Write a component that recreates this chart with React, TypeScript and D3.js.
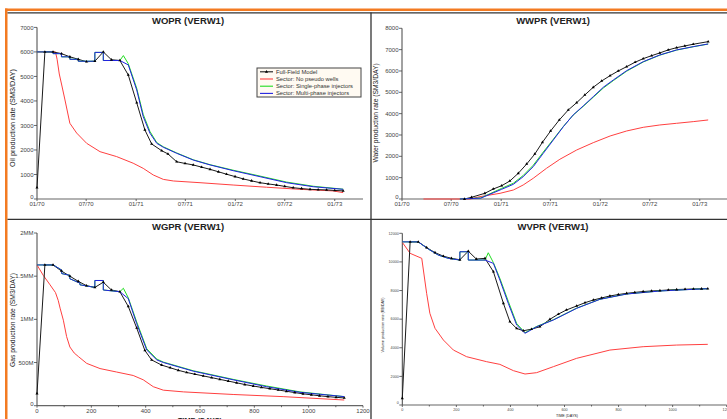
import React from "react";
import * as d3 from "d3";

type Pt = [number, number];

// ---------- WOPR (SM3/DAY) vs days ----------
const woprFull: Pt[] = [[0,460],[29,6000],[59,6000],[90,5930],[121,5800],[152,5700],[182,5600],[213,5620],[244,6000],[274,5680],[305,5650],[336,5060],[367,3930],[397,2820],[422,2245],[459,1970],[482,1840],[514,1520],[545,1450],[575,1390],[606,1300],[637,1210],[668,1110],[698,1010],[729,915],[759,820],[790,740],[821,665],[851,615],[882,570],[912,515],[943,460],[974,425],[1005,395],[1035,380],[1066,370],[1096,350],[1127,330]];
const woprNoPseudo: Pt[] = [[0,6000],[68,6000],[74,5700],[82,5100],[91,4650],[103,4040],[121,3090],[146,2690],[183,2270],[232,1930],[293,1730],[354,1460],[391,1250],[428,980],[465,800],[502,735],[600,665],[722,570],[845,480],[968,395],[1090,330],[1127,260]];
const woprSingle: Pt[] = [[0,6000],[59,6000],[59,5930],[90,5930],[90,5800],[121,5800],[121,5700],[152,5700],[152,5620],[213,5620],[213,5980],[244,5980],[244,5650],[305,5650],[318,5850],[336,5520],[367,4520],[391,3450],[416,2750],[441,2300],[465,2130],[514,1880],[575,1600],[637,1400],[722,1175],[821,935],[919,690],[1017,520],[1127,400]];
const woprMulti: Pt[] = [[0,6000],[59,6000],[59,5930],[90,5930],[90,5800],[121,5800],[121,5700],[152,5700],[152,5620],[213,5620],[213,5980],[244,5980],[244,5650],[305,5650],[336,5470],[367,4450],[391,3360],[416,2680],[441,2270],[465,2110],[514,1865],[575,1590],[637,1390],[722,1155],[821,910],[919,665],[1017,500],[1127,395]];

// ---------- WWPR (SM3/DAY) ----------
const wwprFull: Pt[] = [[230,0],[256,80],[305,267],[336,469],[367,623],[397,844],[428,1205],[459,1641],[489,2110],[517,2658],[547,3188],[579,3704],[612,4172],[643,4515],[673,4876],[704,5237],[735,5532],[766,5780],[796,6001],[827,6203],[858,6409],[888,6578],[919,6718],[949,6845],[980,6986],[1011,7093],[1041,7173],[1072,7253],[1127,7375]];
const wwprNoPseudo: Pt[] = [[79,0],[250,0],[287,110],[361,267],[410,422],[446,656],[483,970],[532,1439],[581,1861],[643,2297],[704,2640],[766,2953],[827,3188],[888,3360],[949,3469],[1011,3548],[1072,3626],[1127,3704]];
const wwprSingle: Pt[] = [[213,0],[290,50],[367,500],[410,740],[446,1100],[483,1580],[520,2200],[557,2800],[594,3400],[630,3930],[667,4340],[704,4770],[741,5200],[778,5550],[827,5990],[888,6420],[949,6740],[1011,6980],[1072,7135],[1127,7260]];
const wwprMulti: Pt[] = [[213,0],[290,40],[367,455],[410,690],[446,1045],[483,1515],[520,2142],[557,2766],[594,3390],[630,3938],[667,4360],[704,4796],[741,5237],[778,5579],[827,6015],[888,6437],[949,6751],[1011,6986],[1072,7140],[1127,7267]];

// ---------- WGPR (MM SM3/DAY) ----------
const wgprFull: Pt[] = [[0,0.14],[29,1.63],[59,1.63],[90,1.56],[121,1.5],[152,1.44],[182,1.39],[213,1.37],[244,1.43],[274,1.34],[305,1.32],[336,1.15],[367,0.9],[397,0.64],[422,0.53],[459,0.47],[490,0.44],[520,0.41],[551,0.385],[581,0.365],[612,0.345],[643,0.325],[673,0.305],[704,0.285],[735,0.265],[765,0.245],[796,0.228],[826,0.212],[857,0.197],[888,0.182],[918,0.167],[949,0.152],[979,0.138],[1010,0.126],[1040,0.115],[1071,0.105],[1101,0.097],[1131,0.09]];
const wgprNoPseudo: Pt[] = [[0,1.63],[23,1.51],[48,1.4],[68,1.31],[78,1.22],[85,1.13],[97,0.99],[109,0.8],[121,0.68],[137,0.61],[152,0.57],[183,0.49],[232,0.43],[293,0.39],[354,0.35],[391,0.3],[428,0.22],[465,0.18],[539,0.16],[722,0.13],[906,0.105],[1131,0.066]];
const wgprSingle: Pt[] = [[0,1.63],[60,1.63],[91,1.57],[91,1.53],[121,1.51],[121,1.47],[158,1.42],[158,1.4],[195,1.38],[213,1.37],[213,1.45],[244,1.45],[244,1.34],[305,1.32],[318,1.36],[336,1.25],[367,0.97],[404,0.66],[441,0.54],[465,0.505],[575,0.405],[722,0.305],[845,0.228],[968,0.16],[1131,0.105]];
const wgprMulti: Pt[] = [[0,1.63],[60,1.63],[91,1.57],[91,1.53],[121,1.51],[121,1.47],[158,1.42],[158,1.4],[195,1.38],[213,1.37],[213,1.45],[244,1.45],[244,1.34],[305,1.32],[336,1.24],[367,0.95],[404,0.645],[441,0.53],[465,0.5],[575,0.4],[722,0.3],[845,0.22],[968,0.155],[1131,0.105]];

// ---------- WVPR (RB/DAY) ----------
const wvprFull: Pt[] = [[0,470],[29,11400],[59,11400],[90,11000],[121,10650],[152,10400],[182,10250],[213,10150],[244,10750],[274,10200],[306,10250],[337,9315],[374,7107],[398,5820],[423,5350],[448,5190],[478,5300],[509,5470],[546,5990],[577,6350],[607,6640],[645,6920],[676,7150],[707,7340],[737,7480],[768,7620],[799,7720],[830,7805],[860,7870],[891,7930],[922,7970],[953,8000],[984,8040],[1015,8070],[1046,8090],[1077,8110],[1107,8120],[1130,8130]];
const wvprNoPseudo: Pt[] = [[0,11370],[29,10600],[72,10250],[78,9434],[90,7806],[102,6408],[121,5360],[152,4540],[189,3840],[238,3375],[312,3026],[361,2840],[411,2400],[454,2166],[497,2260],[559,2680],[645,3262],[768,3840],[891,4075],[1015,4190],[1130,4240]];
const wvprSingle: Pt[] = [[0,11400],[59,11400],[96,10900],[133,10480],[170,10250],[213,10130],[213,10710],[244,10710],[244,10130],[306,10130],[318,10640],[337,9950],[361,8850],[392,7250],[423,5700],[454,5050],[497,5490],[559,5960],[645,6770],[731,7390],[830,7760],[953,7970],[1077,8090],[1130,8130]];
const wvprMulti: Pt[] = [[0,11400],[59,11400],[96,10900],[133,10480],[170,10250],[213,10130],[213,10710],[244,10710],[244,10130],[306,10130],[337,9900],[361,8735],[392,7107],[423,5590],[454,5010],[497,5470],[559,5940],[645,6757],[731,7386],[830,7757],[953,7967],[1077,8085],[1130,8127]];

const legendLabels = ["Full-Field Model", "Sector: No pseudo wells", "Sector: Single-phase injectors", "Sector: Multi-phase injectors"];
const seriesColors = ["#1a1a1a", "#ff4040", "#22dd22", "#2222e0"];

const woprTicks = [0, 1000, 2000, 3000, 4000, 5000, 6000, 7000];
const wwprTicks = [0, 1000, 2000, 3000, 4000, 5000, 6000, 7000, 8000];
const wgprTicks = [0, 0.5, 1, 1.5, 2];
const wgprTickLabels = ["0", "500M", "1MM", "1.5MM", "2MM"];
const wvprTicks = [0, 2000, 4000, 6000, 8000, 10000, 12000];
const dayTicks = [0, 200, 400, 600, 800, 1000, 1200];
const dayMinorTicks = [100, 300, 500, 700, 900, 1100];

const FONT = "'Liberation Sans', Arial, Helvetica, sans-serif";
const BASE = Date.UTC(1970, 0, 1);
const DAY = 864e5;

type PanelProps = {
  left: number; right: number; bottom: number; top: number;
  yMax: number; yTicks: number[]; yTickLabels?: string[];
  time: boolean;
  series: Pt[][];
  title: string; titleX: number; titleY: number;
  yLabel: string; yLabelX: number; yLabelY: number; yLabelSize: number;
  tickSize: number; xTickLabelY: number;
  xLabel?: string; xLabelX?: number; xLabelY?: number; xLabelSize?: number; xLabelBold?: boolean;
};

function Panel(p: PanelProps) {
  const y = d3.scaleLinear().domain([0, p.yMax]).range([p.bottom, p.top]);
  let xs: (d: number) => number;
  let xTicks: { pos: number; label: string }[];
  let minor: number[] = [];
  if (p.time) {
    const xt = d3.scaleUtc().domain([new Date(BASE), new Date(BASE + 1200 * DAY)]).range([p.left, p.right]);
    xs = (d: number) => xt(new Date(BASE + d * DAY));
    const fmt = d3.utcFormat("%m/%y");
    xTicks = xt.ticks(d3.utcMonth.every(6) as any).map((t) => ({ pos: xt(t), label: fmt(t) }));
  } else {
    const xl = d3.scaleLinear().domain([0, 1200]).range([p.left, p.right]);
    xs = (d: number) => xl(d);
    xTicks = dayTicks.map((t) => ({ pos: xl(t), label: String(t) }));
    minor = dayMinorTicks.map((t) => xl(t));
  }
  const line = d3.line<Pt>().x((d) => xs(d[0])).y((d) => y(d[1]));
  const order = [1, 0, 2, 3];
  const tri = d3.symbol(d3.symbolTriangle, 4)() as string;
  return (
    <g>
      <text x={p.titleX} y={p.titleY} textAnchor="middle" fontFamily={FONT} fontWeight="bold" fontSize={9.5} fill="#222">{p.title}</text>
      <text transform={`translate(${p.yLabelX},${p.yLabelY}) rotate(-90)`} textAnchor="middle" fontFamily={FONT} fontSize={p.yLabelSize} fill="#222">{p.yLabel}</text>
      {/* axes */}
      <line x1={p.left} x2={p.left} y1={p.bottom} y2={p.top} stroke="#444" strokeWidth={1} />
      <line x1={p.left} x2={p.right} y1={p.bottom} y2={p.bottom} stroke="#666" strokeWidth={1.2} />
      {p.yTicks.map((t, i) => (
        <g key={"yt" + i}>
          <line x1={p.left - 3} x2={p.left} y1={y(t)} y2={y(t)} stroke="#444" strokeWidth={0.8} />
          <text x={p.left - 3.5} y={y(t) - (i === 0 ? 2 : 0)} dy="0.35em" textAnchor="end" fontFamily={FONT} fontSize={p.tickSize} fill="#444">
            {p.yTickLabels ? p.yTickLabels[i] : String(t)}
          </text>
        </g>
      ))}
      {xTicks.map((t, i) => (
        <g key={"xt" + i}>
          <line x1={t.pos} x2={t.pos} y1={p.bottom} y2={p.bottom + 2} stroke="#444" strokeWidth={0.8} />
          <text x={t.pos} y={p.xTickLabelY} textAnchor="middle" fontFamily={FONT} fontSize={p.tickSize} fill="#444">{t.label}</text>
        </g>
      ))}
      {minor.map((m, i) => (
        <line key={"mn" + i} x1={m} x2={m} y1={p.bottom} y2={p.bottom + 1.5} stroke="#444" strokeWidth={0.8} />
      ))}
      {p.xLabel && (
        <text x={p.xLabelX} y={p.xLabelY} textAnchor="middle" fontFamily={FONT} fontWeight={p.xLabelBold ? "bold" : "normal"} fontSize={p.xLabelSize} fill="#222">{p.xLabel}</text>
      )}
      {order.map((si) => (
        <path key={"s" + si} d={line(p.series[si]) || ""} fill="none" stroke={seriesColors[si]} strokeWidth={1} strokeLinejoin="round" />
      ))}
      {p.series[0].map((d, i) => (
        <path key={"m" + i} d={tri} transform={`translate(${xs(d[0])},${y(d[1])})`} fill="#000" />
      ))}
    </g>
  );
}

function Legend() {
  const x = 257, yy = 68, w = 104, h = 29;
  const tri = d3.symbol(d3.symbolTriangle, 4)() as string;
  return (
    <g>
      <rect x={x} y={yy} width={w} height={h} fill="#fffaf2" stroke="#444" strokeWidth={1} />
      {legendLabels.map((l, i) => {
        const cy = 71.8 + i * 7.2;
        return (
          <g key={l}>
            <line x1={260} x2={273} y1={cy} y2={cy} stroke={seriesColors[i]} strokeWidth={1.1} />
            {i === 0 && <path d={tri} transform={`translate(266.5,${cy})`} fill="#000" />}
            <text x={276} y={cy} dy="0.35em" fontFamily={FONT} fontSize={5.8} fill="#333">{l}</text>
          </g>
        );
      })}
    </g>
  );
}

export default function App() {
  return (
    <svg width={727} height={419} style={{ position: "fixed", left: 0, top: 0, background: "#fff" }}>
      <rect x={0} y={0} width={727} height={419} fill="#fff" />
      {/* frame */}
      <rect x={5} y={8.5} width={722} height={2.5} fill="#f37b22" />
      <rect x={5} y={8.5} width={2.5} height={411} fill="#f37b22" />
      <line x1={7.5} x2={727} y1={12.8} y2={12.8} stroke="#333" strokeWidth={1.3} />
      <line x1={371} x2={371} y1={12.5} y2={419} stroke="#333" strokeWidth={1.3} />
      <line x1={7.5} x2={727} y1={219.3} y2={219.3} stroke="#333" strokeWidth={1.3} />

      <Panel left={37} right={363} bottom={199} top={27.4} yMax={7000} yTicks={woprTicks} time={true}
        series={[woprFull, woprNoPseudo, woprSingle, woprMulti]}
        title="WOPR (VERW1)" titleX={188} titleY={23.5}
        yLabel="Oil production rate (SM3/DAY)" yLabelX={15} yLabelY={118} yLabelSize={7.3}
        tickSize={6} xTickLabelY={205.5} />
      <Legend />

      <Panel left={402} right={728} bottom={199} top={28.3} yMax={8000} yTicks={wwprTicks} time={true}
        series={[wwprFull, wwprNoPseudo, wwprSingle, wwprMulti]}
        title="WWPR (VERW1)" titleX={553} titleY={23.5}
        yLabel="Water production rate (SM3/DAY)" yLabelX={377.5} yLabelY={113} yLabelSize={6.7}
        tickSize={6} xTickLabelY={205.5} />

      <Panel left={37} right={363} bottom={405.7} top={233} yMax={2} yTicks={wgprTicks} yTickLabels={wgprTickLabels} time={false}
        series={[wgprFull, wgprNoPseudo, wgprSingle, wgprMulti]}
        title="WGPR (VERW1)" titleX={188} titleY={229.5}
        yLabel="Gas production rate (SM3/DAY)" yLabelX={14.5} yLabelY={320} yLabelSize={6.7}
        tickSize={6} xTickLabelY={412.5} />
      <text x={200} y={422.5} textAnchor="middle" fontFamily={FONT} fontWeight="bold" fontSize={7.3} fill="#222">TIME (DAYS)</text>

      <Panel left={402.3} right={726.7} bottom={405} top={233.3} yMax={12000} yTicks={wvprTicks} time={false}
        series={[wvprFull, wvprNoPseudo, wvprSingle, wvprMulti]}
        title="WVPR (VERW1)" titleX={553} titleY={229.5}
        yLabel="Volume production rate (RB/DAY)" yLabelX={383.5} yLabelY={325} yLabelSize={3.7}
        tickSize={3.7} xTickLabelY={410.5}
        xLabel="TIME (DAYS)" xLabelX={567} xLabelY={416.8} xLabelSize={3.7} />
    </svg>
  );
}
